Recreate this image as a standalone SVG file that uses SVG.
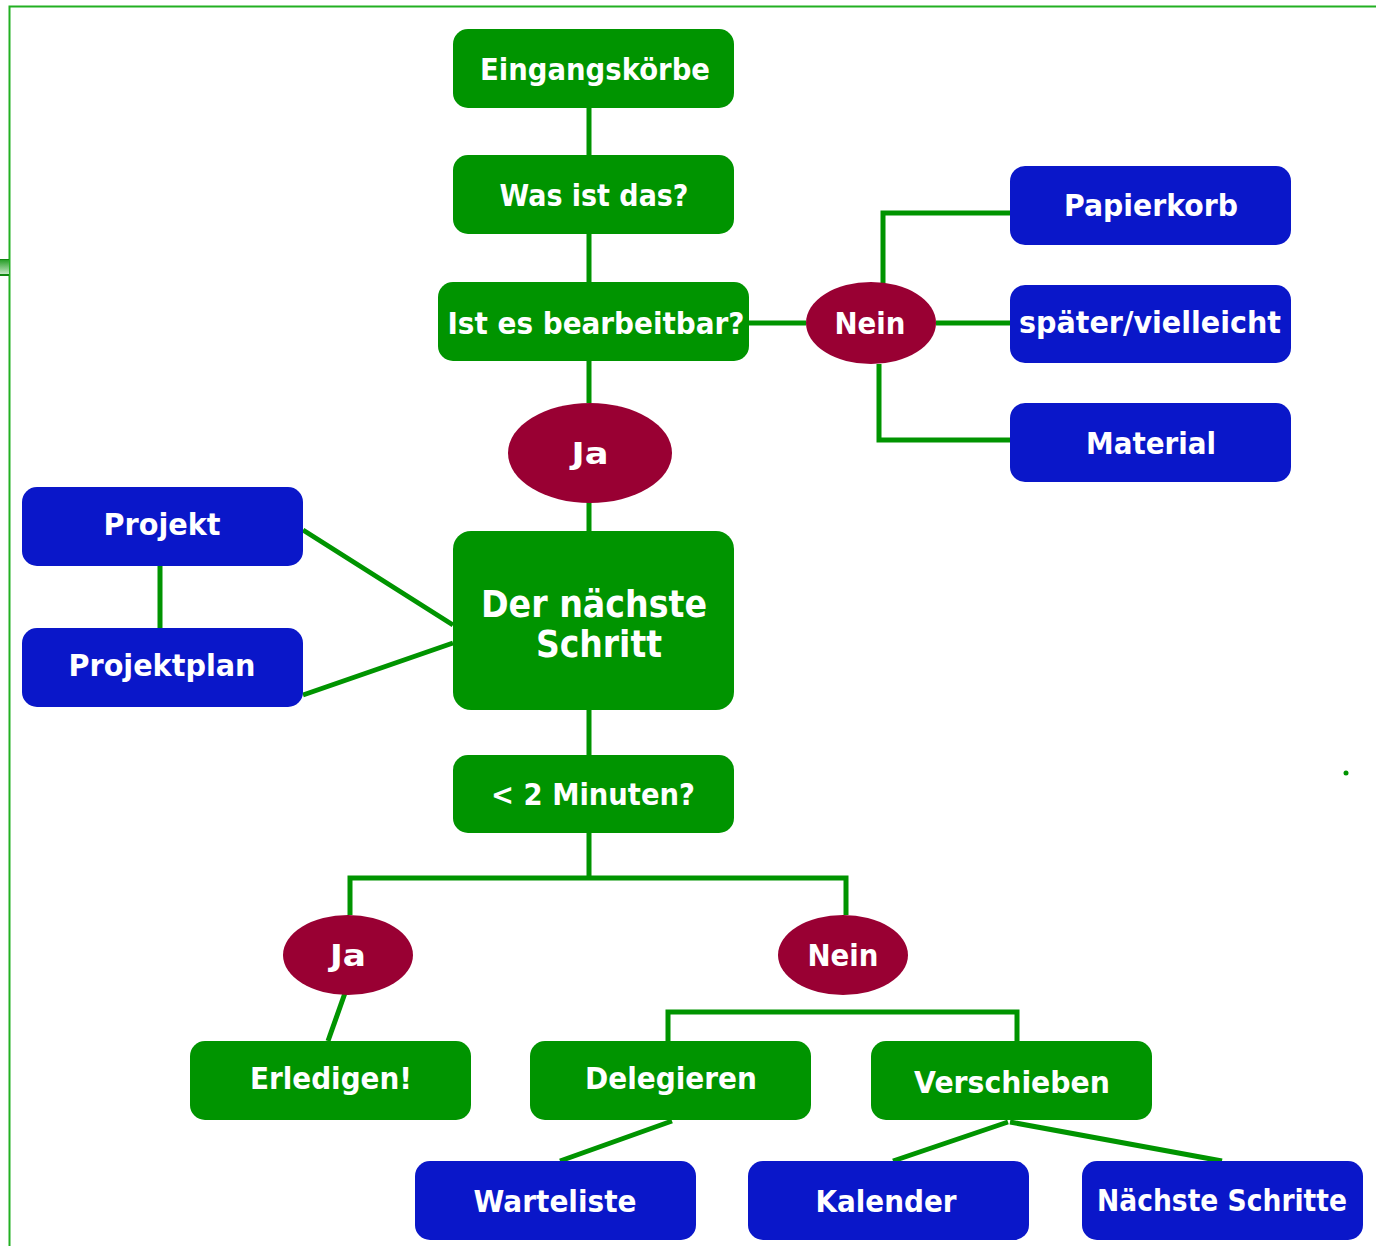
<svg xmlns="http://www.w3.org/2000/svg" width="1376" height="1246" viewBox="0 0 1376 1246">
<defs>
<linearGradient id="tab" x1="0" y1="0" x2="0" y2="1">
<stop offset="0" stop-color="#1f9a1f"/>
<stop offset="1" stop-color="#cfeccf"/>
</linearGradient>
</defs>
<style>
.g{fill:#009400}
.b{fill:#0a17c9}
.r{fill:#990033}
.t{font-family:"DejaVu Sans","Liberation Sans",sans-serif;font-weight:bold;font-size:31px;fill:#ffffff;text-anchor:middle}
.big{font-size:38px}
.c{fill:none;stroke:#009400;stroke-width:5}
.frame{fill:none;stroke:#22b022;stroke-width:2}
</style>
<rect width="1376" height="1246" fill="#ffffff"/>
<g id="frame">
<path class="frame" d="M1376 6.5H9.5V1246"/>
<rect x="0" y="259" width="9" height="16" fill="url(#tab)"/>
<line x1="0" y1="259.5" x2="9" y2="259.5" stroke="#118811" stroke-width="1"/>
<line x1="0" y1="275" x2="9" y2="275" stroke="#118811" stroke-width="2"/>
<circle cx="1346" cy="773" r="2.5" fill="#009400"/>
</g>
<g id="connectors">
<path class="c" d="M589 108V155M589 234V282M589 360V403M589 502V531M589 710V755M589 833V878"/>
<path class="c" d="M749 323H806M936 323H1010M883 283V213H1010M879 364V440H1010"/>
<path class="c" d="M160 566V628M303 530L453 625M303 695L453 643"/>
<path class="c" d="M350 915V878H846V915"/>
<path class="c" d="M345 993L328 1041"/>
<path class="c" d="M668 1041V1012H1017V1041"/>
<path class="c" d="M672 1121L560 1161M1008 1122L893 1161M1010 1122L1222 1161"/>
</g>
<g id="n-eingang"><rect class="g" x="453" y="29" width="281" height="79" rx="15"/><text class="t" x="595" y="80" textLength="230" lengthAdjust="spacingAndGlyphs">Eingangskörbe</text></g>
<g id="n-was"><rect class="g" x="453" y="155" width="281" height="79" rx="15"/><text class="t" x="594" y="206" textLength="189" lengthAdjust="spacingAndGlyphs">Was ist das?</text></g>
<g id="n-ist"><rect class="g" x="438" y="282" width="311" height="79" rx="15"/><text class="t" x="596" y="334" textLength="297" lengthAdjust="spacingAndGlyphs">Ist es bearbeitbar?</text></g>
<g id="n-nein1"><ellipse class="r" cx="871" cy="323" rx="65" ry="41"/><text class="t" x="870" y="334" textLength="71" lengthAdjust="spacingAndGlyphs">Nein</text></g>
<g id="n-papierkorb"><rect class="b" x="1010" y="166" width="281" height="79" rx="15"/><text class="t" x="1151" y="216" textLength="174" lengthAdjust="spacingAndGlyphs">Papierkorb</text></g>
<g id="n-spaeter"><rect class="b" x="1010" y="285" width="281" height="78" rx="15"/><text class="t" x="1150" y="333" textLength="262" lengthAdjust="spacingAndGlyphs">später/vielleicht</text></g>
<g id="n-material"><rect class="b" x="1010" y="403" width="281" height="79" rx="15"/><text class="t" x="1151" y="454" textLength="130" lengthAdjust="spacingAndGlyphs">Material</text></g>
<g id="n-ja1"><ellipse class="r" cx="590" cy="453" rx="82" ry="50"/><text class="t" x="590" y="464" textLength="37" lengthAdjust="spacingAndGlyphs">Ja</text></g>
<g id="n-projekt"><rect class="b" x="22" y="487" width="281" height="79" rx="15"/><text class="t" x="162" y="535" textLength="117" lengthAdjust="spacingAndGlyphs">Projekt</text></g>
<g id="n-projektplan"><rect class="b" x="22" y="628" width="281" height="79" rx="15"/><text class="t" x="162" y="676" textLength="187" lengthAdjust="spacingAndGlyphs">Projektplan</text></g>
<g id="n-naechster"><rect class="g" x="453" y="531" width="281" height="179" rx="18"/><text class="t big" x="594" y="617" textLength="226" lengthAdjust="spacingAndGlyphs">Der nächste</text><text class="t big" x="599" y="657" textLength="126" lengthAdjust="spacingAndGlyphs">Schritt</text></g>
<g id="n-minuten"><rect class="g" x="453" y="755" width="281" height="78" rx="15"/><text class="t" x="593" y="805" textLength="204" lengthAdjust="spacingAndGlyphs">&lt; 2 Minuten?</text></g>
<g id="n-ja2"><ellipse class="r" cx="348" cy="955" rx="65" ry="40"/><text class="t" x="348" y="966" textLength="36" lengthAdjust="spacingAndGlyphs">Ja</text></g>
<g id="n-nein2"><ellipse class="r" cx="843" cy="955" rx="65" ry="40"/><text class="t" x="843" y="966" textLength="71" lengthAdjust="spacingAndGlyphs">Nein</text></g>
<g id="n-erledigen"><rect class="g" x="190" y="1041" width="281" height="79" rx="15"/><text class="t" x="331" y="1089" textLength="162" lengthAdjust="spacingAndGlyphs">Erledigen!</text></g>
<g id="n-delegieren"><rect class="g" x="530" y="1041" width="281" height="79" rx="15"/><text class="t" x="671" y="1089" textLength="172" lengthAdjust="spacingAndGlyphs">Delegieren</text></g>
<g id="n-verschieben"><rect class="g" x="871" y="1041" width="281" height="79" rx="15"/><text class="t" x="1012" y="1093" textLength="196" lengthAdjust="spacingAndGlyphs">Verschieben</text></g>
<g id="n-warteliste"><rect class="b" x="415" y="1161" width="281" height="79" rx="15"/><text class="t" x="555" y="1212" textLength="163" lengthAdjust="spacingAndGlyphs">Warteliste</text></g>
<g id="n-kalender"><rect class="b" x="748" y="1161" width="281" height="79" rx="15"/><text class="t" x="886" y="1212" textLength="141" lengthAdjust="spacingAndGlyphs">Kalender</text></g>
<g id="n-naechste"><rect class="b" x="1082" y="1161" width="281" height="79" rx="15"/><text class="t" x="1222" y="1211" font-size="29" textLength="250" lengthAdjust="spacingAndGlyphs">Nächste Schritte</text></g>
</svg>
